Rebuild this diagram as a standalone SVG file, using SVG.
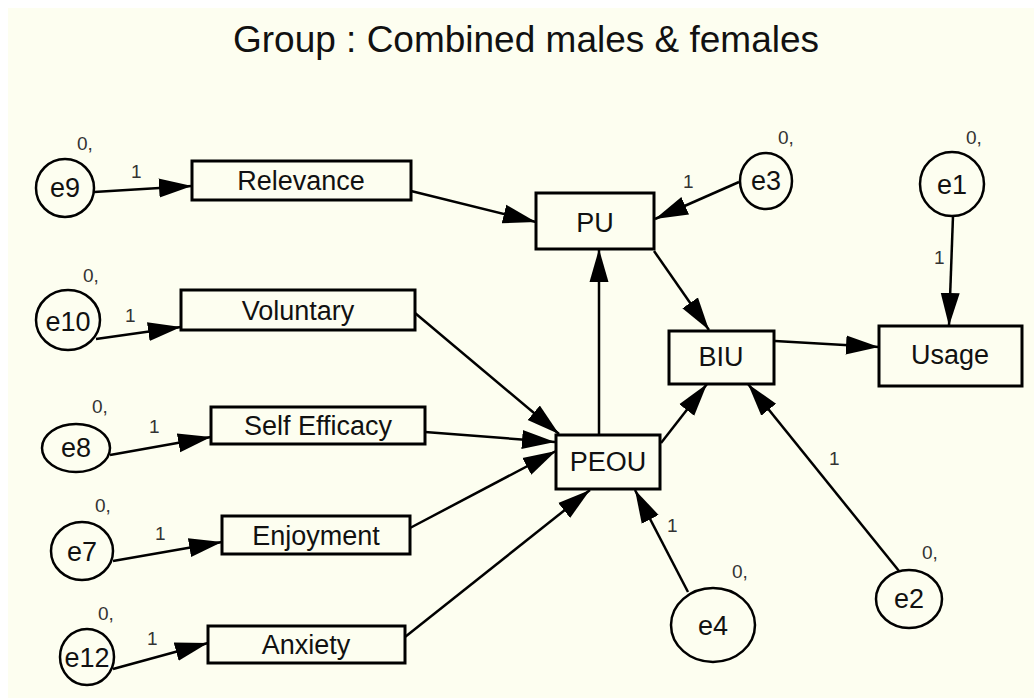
<svg xmlns="http://www.w3.org/2000/svg" width="1034" height="698" viewBox="0 0 1034 698">
<style>
.bx{fill:#fdfef0;stroke:#000;stroke-width:3}
.el{fill:#fdfef0;stroke:#000;stroke-width:2.5}
.t{font-family:"Liberation Sans",Arial,sans-serif;font-size:27px;fill:#111;text-anchor:middle}
.s{font-family:"Liberation Sans",Arial,sans-serif;font-size:19px;fill:#333}
.ln{stroke:#000;stroke-width:2.5;fill:none;marker-end:url(#ah)}
</style>
<defs>
<marker id="ah" markerUnits="userSpaceOnUse" markerWidth="34" markerHeight="22" viewBox="0 0 34 22" refX="33" refY="11" orient="auto"><path d="M0,1.5 L33,11 L0,20.5 z" fill="#000"/></marker>
</defs>
<rect x="0" y="0" width="1034" height="698" fill="#ffffff"/>
<rect x="8" y="8" width="1026" height="690" fill="#fdfef0"/>
<text x="526" y="52" font-family="Liberation Sans,Arial,sans-serif" font-size="37" fill="#111" text-anchor="middle">Group : Combined males &amp; females</text>
<g id="connectors">
<line class="ln" x1="94" y1="192" x2="192" y2="186"/>
<line class="ln" x1="96" y1="339" x2="181" y2="327"/>
<line class="ln" x1="110" y1="455" x2="211" y2="437"/>
<line class="ln" x1="113" y1="561" x2="222" y2="542"/>
<line class="ln" x1="113" y1="669" x2="208" y2="643"/>
<line class="ln" x1="411" y1="191" x2="536" y2="222"/>
<line class="ln" x1="415" y1="313" x2="559" y2="434"/>
<line class="ln" x1="425" y1="432" x2="555" y2="442"/>
<line class="ln" x1="410" y1="528" x2="556" y2="451"/>
<line class="ln" x1="405" y1="637" x2="590" y2="490"/>
<line class="ln" x1="599" y1="435" x2="599" y2="249"/>
<line class="ln" x1="654" y1="251" x2="709" y2="330"/>
<line class="ln" x1="661" y1="443" x2="707" y2="384"/>
<line class="ln" x1="775" y1="341" x2="879" y2="347"/>
<line class="ln" x1="739" y1="182" x2="655" y2="219"/>
<line class="ln" x1="953" y1="216" x2="949" y2="326"/>
<line class="ln" x1="688" y1="592" x2="635" y2="490"/>
<line class="ln" x1="899" y1="571" x2="748" y2="384"/>
</g>
<g id="Relevance"><rect class="bx" x="192" y="161" width="219" height="39"/><text class="t" x="301" y="190">Relevance</text></g>
<g id="Voluntary"><rect class="bx" x="181" y="290" width="234" height="40"/><text class="t" x="298" y="320">Voluntary</text></g>
<g id="SelfEfficacy"><rect class="bx" x="211" y="407" width="214" height="37"/><text class="t" x="318" y="435">Self Efficacy</text></g>
<g id="Enjoyment"><rect class="bx" x="222" y="516" width="188" height="38"/><text class="t" x="316" y="545">Enjoyment</text></g>
<g id="Anxiety"><rect class="bx" x="208" y="626" width="197" height="37"/><text class="t" x="306" y="654">Anxiety</text></g>
<g id="PU"><rect class="bx" x="536" y="193" width="118" height="56"/><text class="t" x="595" y="232">PU</text></g>
<g id="PEOU"><rect class="bx" x="556" y="435" width="104" height="54"/><text class="t" x="608" y="471">PEOU</text></g>
<g id="BIU"><rect class="bx" x="669" y="331" width="105" height="53"/><text class="t" x="721" y="366">BIU</text></g>
<g id="Usage"><rect class="bx" x="879" y="326" width="143" height="60"/><text class="t" x="950" y="364">Usage</text></g>
<g id="e9"><ellipse class="el" cx="65" cy="188" rx="29" ry="29"/><text class="t" x="65" y="197">e9</text><text class="s" x="77" y="150">0,</text><text class="s" x="131" y="178">1</text></g>
<g id="e10"><ellipse class="el" cx="68" cy="320" rx="32" ry="30"/><text class="t" x="68" y="331">e10</text><text class="s" x="83" y="282">0,</text><text class="s" x="125" y="322">1</text></g>
<g id="e8"><ellipse class="el" cx="76" cy="448" rx="34" ry="24"/><text class="t" x="76" y="457">e8</text><text class="s" x="92" y="413">0,</text><text class="s" x="149" y="433">1</text></g>
<g id="e7"><ellipse class="el" cx="82" cy="551" rx="31" ry="29"/><text class="t" x="82" y="561">e7</text><text class="s" x="95" y="512">0,</text><text class="s" x="155" y="540">1</text></g>
<g id="e12"><ellipse class="el" cx="87" cy="657" rx="27" ry="28"/><text class="t" x="87" y="667">e12</text><text class="s" x="98" y="620">0,</text><text class="s" x="147" y="645">1</text></g>
<g id="e3"><ellipse class="el" cx="766" cy="181" rx="26" ry="28"/><text class="t" x="766" y="190">e3</text><text class="s" x="778" y="144">0,</text><text class="s" x="683" y="188">1</text></g>
<g id="e1"><ellipse class="el" cx="952" cy="184" rx="32" ry="32"/><text class="t" x="952" y="194">e1</text><text class="s" x="966" y="144">0,</text><text class="s" x="934" y="264">1</text></g>
<g id="e4"><ellipse class="el" cx="713" cy="625" rx="42" ry="37"/><text class="t" x="713" y="635">e4</text><text class="s" x="732" y="578">0,</text><text class="s" x="667" y="532">1</text></g>
<g id="e2"><ellipse class="el" cx="909" cy="599" rx="33" ry="29"/><text class="t" x="909" y="608">e2</text><text class="s" x="922" y="559">0,</text><text class="s" x="829" y="465">1</text></g>
</svg>
